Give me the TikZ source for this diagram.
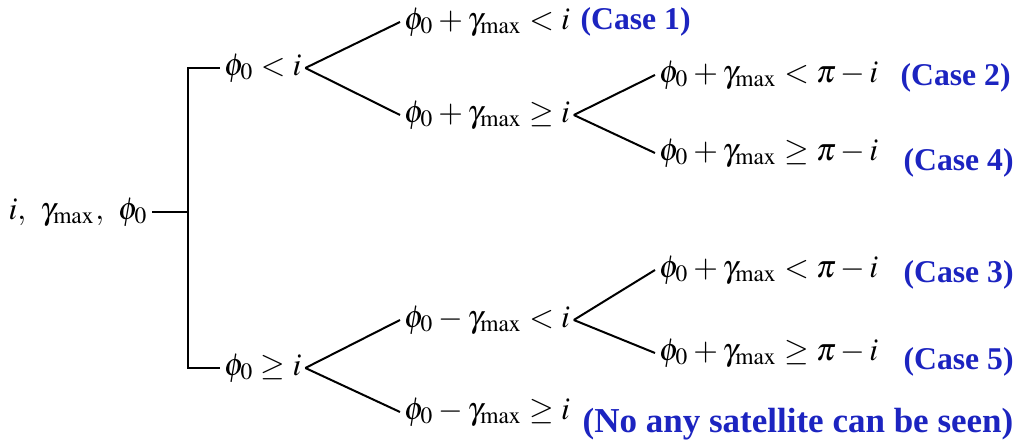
\documentclass[tikz,border=0pt]{standalone}
\usepackage{mathptmx}
\usepackage[no-math]{fontspec}
\setmainfont{Liberation Serif}
\usetikzlibrary{positioning}
\definecolor{CaseClr}{RGB}{28,36,192}

\begin{document}
\begin{tikzpicture}[x=0.3pt,y=-0.3pt,
  cond/.style={anchor=west,inner sep=1pt,font=\fontsize{9.5}{11}\selectfont},
  case/.style={anchor=west,inner sep=0pt,text=CaseClr,font=\fontsize{9.5}{11}\selectfont\bfseries},
  branch/.style={line width=0.6pt}]
\useasboundingbox (0,0) rectangle (1019,445);

% root and first split
\node[cond,anchor=east] (root) at (152,212) {$i,\;\, \gamma_{\max},\;\, \phi_0$};
\coordinate (fork) at (188,212);
\node[cond] (lt) at (220,68) {$\phi_0<i$};
\node[cond] (ge) at (220,368) {$\phi_0\ge i$};

% upper branch
\node[cond] (c1) at (400,22) {$\phi_0+\gamma_{\max}<i$};
\node[cond] (n2) at (400,115) {$\phi_0+\gamma_{\max}\ge i$};
\node[cond] (c2) at (655,75) {$\phi_0+\gamma_{\max}<\pi-i$};
\node[cond] (c4) at (655,153) {$\phi_0+\gamma_{\max}\ge\pi-i$};

% lower branch
\node[cond] (n3) at (400,320) {$\phi_0-\gamma_{\max}<i$};
\node[cond] (nn) at (400,412) {$\phi_0-\gamma_{\max}\ge i$};
\node[cond] (c3) at (655,270) {$\phi_0+\gamma_{\max}<\pi-i$};
\node[cond] (c5) at (655,353) {$\phi_0+\gamma_{\max}\ge\pi-i$};

% case labels
\node[case] (l1) at (580,22) {(Case 1)};
\node[case] (l2) at (900,78) {(Case 2)};
\node[case] (l4) at (903,163) {(Case 4)};
\node[case] (l3) at (903,275) {(Case 3)};
\node[case] (l5) at (903,362) {(Case 5)};
\node[case,font=\fontsize{10.5}{12}\selectfont\bfseries] (l0) at (582,424) {(No any satellite can be seen)};

% connectors
\draw[branch] (root) -- (fork);
\draw[branch] (fork) |- (lt);
\draw[branch] (fork) |- (ge);
\draw[branch] (lt.east) -- (c1.west);
\draw[branch] (lt.east) -- (n2.west);
\draw[branch] (n2.east) -- (c2.west);
\draw[branch] (n2.east) -- (c4.west);
\draw[branch] (ge.east) -- (n3.west);
\draw[branch] (ge.east) -- (nn.west);
\draw[branch] (n3.east) -- (c3.west);
\draw[branch] (n3.east) -- (c5.west);
\end{tikzpicture}
\end{document}
